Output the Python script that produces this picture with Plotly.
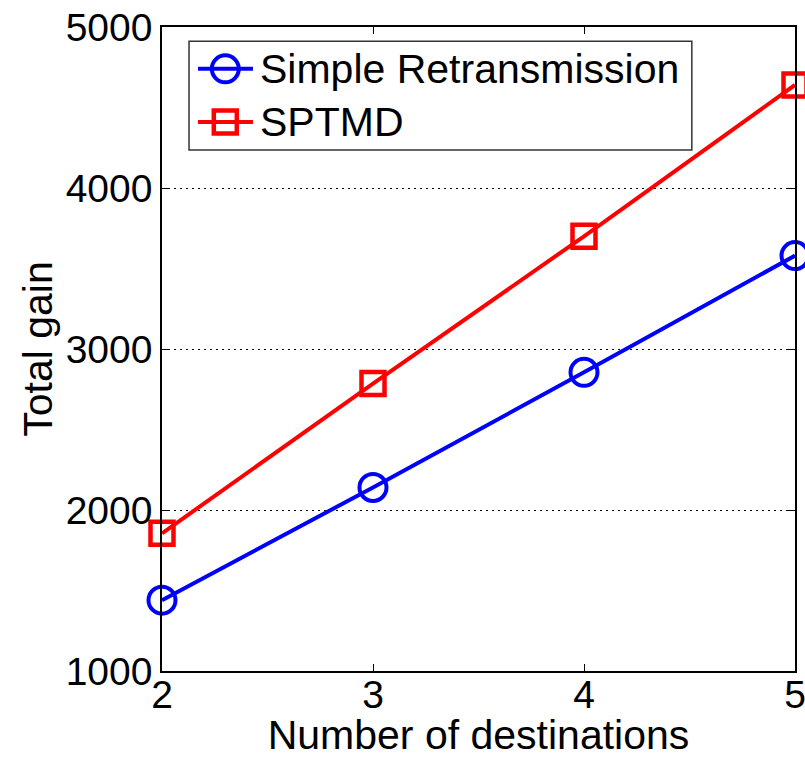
import plotly.graph_objects as go

destinations = [2, 3, 4, 5]
simple_retx = [1440, 2140, 2855, 3580]
sptmd = [1855, 2785, 3700, 4640]
y_ticks = [1000, 2000, 3000, 4000, 5000]
x_ticks = [2, 3, 4, 5]
series_names = ["Simple Retransmission", "SPTMD"]

FONT = "Liberation Sans, Arial, sans-serif"
BLUE = "#0000FF"
RED = "#FF0000"

fig = go.Figure()
fig.add_trace(go.Scatter(
    x=destinations, y=simple_retx, mode="lines+markers", name=series_names[0],
    line=dict(color=BLUE, width=4),
    marker=dict(symbol="circle-open", size=27, color=BLUE, line=dict(width=4, color=BLUE)),
    cliponaxis=False, showlegend=False,
))
fig.add_trace(go.Scatter(
    x=destinations, y=sptmd, mode="lines+markers", name=series_names[1],
    line=dict(color=RED, width=4),
    marker=dict(symbol="square-open", size=23, color=RED, line=dict(width=4.5, color=RED)),
    cliponaxis=False, showlegend=False,
))

# Manual legend (box, sample lines, markers, labels) in paper coordinates
shapes = [
    dict(type="rect", xref="paper", yref="paper", x0=0.0427, x1=0.837, y0=0.809, y1=0.978,
         line=dict(color="#333333", width=1.5), fillcolor="white", layer="above"),
]
annotations = []
rows = [(0.935, BLUE, "circle", series_names[0]), (0.8525, RED, "rect", series_names[1])]
for yc, col, kind, label in rows:
    shapes.append(dict(type="line", xref="paper", yref="paper", x0=0.0569, x1=0.1437, y0=yc, y1=yc,
                       line=dict(color=col, width=4), layer="above"))
    if kind == "circle":
        shapes.append(dict(type="circle", xref="paper", yref="paper", xsizemode="pixel", ysizemode="pixel",
                           xanchor=0.1, yanchor=yc, x0=-13.5, x1=13.5, y0=-13.5, y1=13.5,
                           line=dict(color=col, width=4), fillcolor="rgba(0,0,0,0)", layer="above"))
    else:
        shapes.append(dict(type="rect", xref="paper", yref="paper", xsizemode="pixel", ysizemode="pixel",
                           xanchor=0.1, yanchor=yc, x0=-11.5, x1=11.5, y0=-11.5, y1=11.5,
                           line=dict(color=col, width=4.5), fillcolor="rgba(0,0,0,0)", layer="above"))
    annotations.append(dict(xref="paper", yref="paper", x=0.1517, y=yc, xanchor="left", yanchor="middle",
                            text=label, showarrow=False,
                            font=dict(family=FONT, size=41, color="black")))

fig.update_layout(
    width=805, height=758,
    margin=dict(l=162, r=10, t=27, b=87, pad=0),
    paper_bgcolor="white", plot_bgcolor="white",
    font=dict(family=FONT, size=39, color="black"),
    showlegend=False,
    shapes=shapes,
    annotations=annotations,
    xaxis=dict(
        range=[2, 5], tickvals=x_ticks, ticktext=[str(v) for v in x_ticks],
        showgrid=False, zeroline=False, automargin=False,
        ticklabeloverflow="allow", ticklabelstandoff=-12,
        showline=True, linecolor="black", linewidth=1.5, mirror="ticks",
        ticks="inside", ticklen=7, tickcolor="black", tickwidth=1.2,
        tickfont=dict(family=FONT, size=39, color="black"),
        title=dict(text="Number of destinations", font=dict(family=FONT, size=41, color="black"), standoff=17),
    ),
    yaxis=dict(
        range=[1000, 5000], tickvals=y_ticks, ticktext=[str(v) for v in y_ticks],
        showgrid=True, gridcolor="black", griddash="2px,4px", gridwidth=1,
        zeroline=False, automargin=False, ticklabeloverflow="allow",
        showline=True, linecolor="black", linewidth=1.5, mirror="ticks",
        ticks="inside", ticklen=7, tickcolor="black", tickwidth=1.2,
        tickfont=dict(family=FONT, size=39, color="black"),
        title=dict(text="Total gain", font=dict(family=FONT, size=41, color="black"), standoff=0),
    ),
)

fig.write_html("out.html")
